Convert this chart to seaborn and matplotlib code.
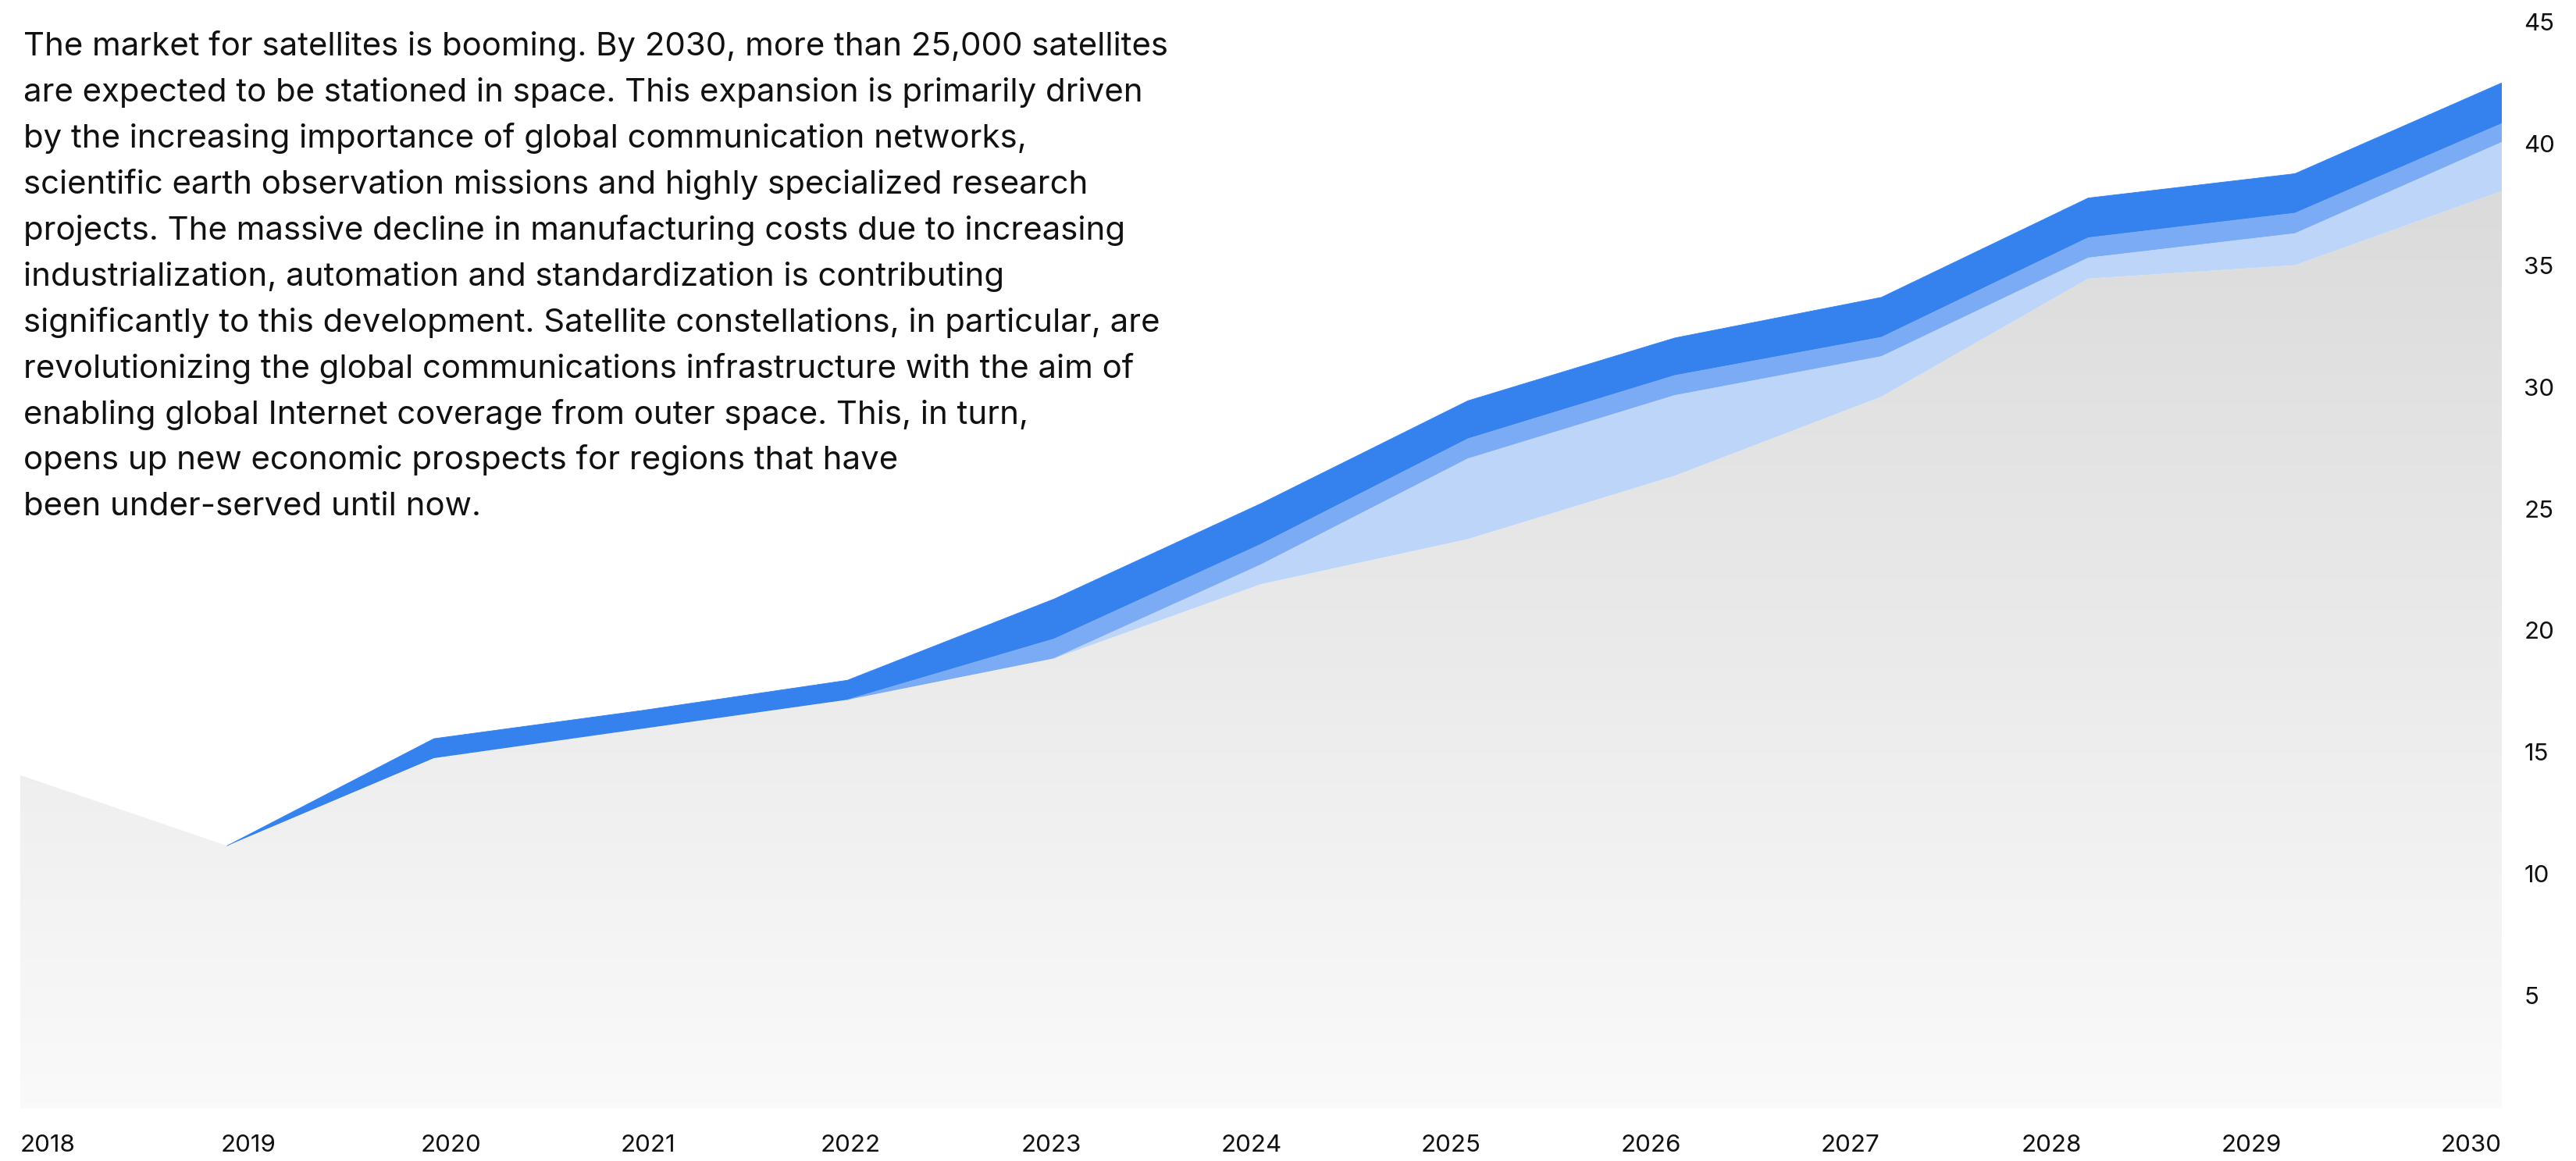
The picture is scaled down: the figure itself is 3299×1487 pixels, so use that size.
import numpy as np
import pandas as pd
import matplotlib
matplotlib.use("Agg")
import matplotlib.pyplot as plt
import seaborn as sns
from matplotlib.transforms import ScaledTranslation
from matplotlib.colors import LinearSegmentedColormap

# ---------------- data ----------------
years = list(range(2018, 2031))
base_gray = [13.7, 10.8, 14.4, 15.6, 16.8, 18.5, 21.55, 23.4, 26.0, 29.25, 34.1, 34.65, 37.7]
light_blue = [0, 0, 0, 0, 0, 0, 0.8, 3.3, 3.3, 1.65, 0.85, 1.3, 2.0]
medium_blue = [0, 0, 0, 0, 0, 0.8, 0.84, 0.82, 0.82, 0.79, 0.83, 0.84, 0.77]
dark_blue = [0, 0, 0.8, 0.75, 0.8, 1.64, 1.67, 1.56, 1.54, 1.64, 1.63, 1.62, 1.67]

y_ticks = [5, 10, 15, 20, 25, 30, 35, 40, 45]
x_labels = [str(y) for y in years]

body_lines = [
    "The market for satellites is booming. By 2030, more than 25,000 satellites",
    "are expected to be stationed in space. This expansion is primarily driven",
    "by the increasing importance of global communication networks,",
    "scientific earth observation missions and highly specialized research",
    "projects. The massive decline in manufacturing costs due to increasing",
    "industrialization, automation and standardization is contributing",
    "significantly to this development. Satellite constellations, in particular, are",
    "revolutionizing the global communications infrastructure with the aim of",
    "enabling global Internet coverage from outer space. This, in turn,",
    "opens up new economic prospects for regions that have",
    "been under-served until now.",
]

band_colors = ["#bcd5f8", "#7aabf4", "#3581ee"]

# ---------------- style ----------------
sns.set_theme(style="white")
plt.rcParams["font.family"] = ["Inter", "DejaVu Sans"]

W, H, DPI = 3299, 1487, 100
fig = plt.figure(figsize=(W / DPI, H / DPI), dpi=DPI)
fig.patch.set_facecolor("white")
ax = fig.add_axes([26 / W, 1 - 1420 / H, (3204 - 26) / W, (1420 - 17) / H])
ax.set_facecolor("white")

df = pd.DataFrame({"year": years, "base": base_gray, "light": light_blue,
                   "medium": medium_blue, "dark": dark_blue})
df["t0"] = df["base"]
df["t1"] = df["t0"] + df["light"]
df["t2"] = df["t1"] + df["medium"]
df["t3"] = df["t2"] + df["dark"]

# gray gradient base area
poly = ax.fill_between(df["year"], 0, df["t0"], facecolor="none", edgecolor="none")
grad = np.linspace(0, 1, 256).reshape(-1, 1)
cmap = LinearSegmentedColormap.from_list("g", ["#fafafa", "#d8d8d8"])
im = ax.imshow(grad, extent=[2018, 2030, 0, 41], origin="lower", aspect="auto",
               cmap=cmap, zorder=1, interpolation="bicubic")
im.set_clip_path(poly.get_paths()[0], transform=poly.get_transform())

# stacked blue bands
bands = [("t0", "t1", "light"), ("t1", "t2", "medium"), ("t2", "t3", "dark")]
for (lo, hi, name), c in zip(bands, band_colors):
    ax.fill_between(df["year"], df[lo], df[hi], facecolor=c, edgecolor="none",
                    linewidth=0, zorder=2)
    first = df.loc[df[name] > 0, "year"].min() - 1
    sub = df[df["year"] >= first]
    sns.lineplot(data=sub, x="year", y=hi, color=c, linewidth=0.6, ax=ax, zorder=3)

ax.set_xlim(2018, 2030)
ax.set_ylim(0, 45)
for s in ax.spines.values():
    s.set_visible(False)
ax.set_xlabel("")
ax.set_ylabel("")
ax.grid(False)

# y ticks on the right
ax.yaxis.tick_right()
ax.set_yticks(y_ticks)
ax.set_yticklabels([str(v) for v in y_ticks])
ax.tick_params(axis="y", length=0, pad=20.5, labelsize=22.5, labelcolor="#111111")
for lab in ax.get_yticklabels():
    lab.set_transform(lab.get_transform() + ScaledTranslation(0, -11 / DPI, fig.dpi_scale_trans))

# x tick labels (evenly spaced row, last one flush right)
step = 0.9675
xpos = [2018 + i * step for i in range(len(years) - 1)] + [2030]
ax.set_xticks(xpos)
ax.set_xticklabels(x_labels)
ax.tick_params(axis="x", length=0, pad=24, labelsize=22.5, labelcolor="#111111")
for i, lab in enumerate(ax.get_xticklabels()):
    lab.set_ha("right" if i == len(years) - 1 else "left")

# body text
for i, line in enumerate(body_lines):
    fig.text(30 / W, 1 - (71.4 + 58.9 * i) / H, line, ha="left", va="baseline",
             fontsize=30.2, color="#111111")

fig.savefig("out.png", dpi=DPI, facecolor="white")
